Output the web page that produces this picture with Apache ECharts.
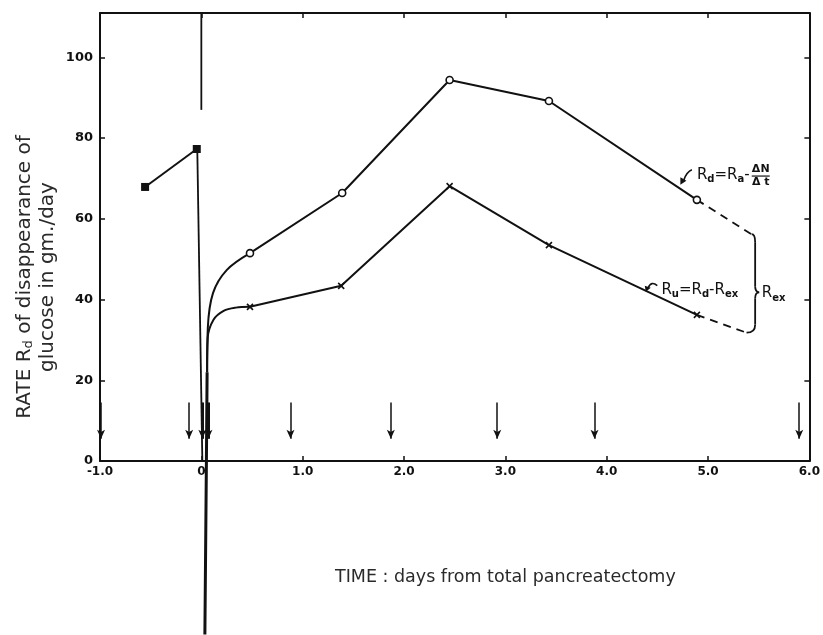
<!DOCTYPE html>
<html><head><meta charset="utf-8">
<script src="https://cdn.jsdelivr.net/npm/echarts@6/dist/echarts.min.js"></script>
<style>html,body{margin:0;padding:0;background:#fff}#c{width:823px;height:635px}</style>
</head><body><div id="c"></div>
<script>
// ---- data ----
const xTickValues = [-1, 0, 1, 2, 3, 4, 5, 6];
const xTickLabels = ['-1.0', '0', '1.0', '2.0', '3.0', '4.0', '5.0', '6.0'];
const yTickValues = [0, 20, 40, 60, 80, 100];
const yTickLabels = ['0', '20', '40', '60', '80', '100'];

const preOpDays = [-0.555, -0.045];
const preOpRate = [67.9, 77.3];

const rdDays = [0.48, 1.39, 2.45, 3.43, 4.89];
const rdRate = [51.5, 66.4, 94.4, 89.2, 64.7];
const rdEarlyDays = [0.057, 0.064, 0.115, 0.25, 0.48];
const rdEarlyRate = [22, 33, 41.6, 47.3, 51.5];
const rdExtDays = [4.89, 5.44];
const rdExtRate = [64.7, 56.0];

const ruDays = [0.48, 1.38, 2.45, 3.43, 4.89];
const ruRate = [38.2, 43.4, 68.1, 53.5, 36.2];
const ruEarlyDays = [0.057, 0.063, 0.12, 0.22, 0.34, 0.48];
const ruEarlyRate = [22, 30.5, 35.0, 37.2, 38.0, 38.2];
const ruExtDays = [4.89, 5.39];
const ruExtRate = [36.2, 31.7];

const dropDays = [-0.04, 0.01];
const dropRate = [77.3, 0];
const stemDays = [0.035, 0.05, 0.057];
const stemRate = [-43, 0, 22];
const opMarkDays = [0, 0];
const opMarkRate = [111, 87];

const arrowDays = [-0.99, -0.12, 0.01, 0.07, 0.88, 1.87, 2.92, 3.88, 5.9];
const arrowBold = [false, false, true, true, false, false, false, false, false];
const arrowTop = 14.5;
const arrowBottom = 5.5;

const zip = (a, b) => a.map((v, i) => [v, b[i]]);

const chart = echarts.init(document.getElementById('c'), null, {renderer: 'canvas'});
const black = '#111';
const labelFont = {fontFamily: 'DejaVu Sans', fontSize: 13, fontWeight: 'bold', color: black};

const baseLine = (data, extra) => Object.assign({
  type: 'line', data: data, xAxisIndex: 0, yAxisIndex: 0,
  symbol: 'none', silent: true, animation: false, clip: false,
  lineStyle: {color: black, width: 2}, itemStyle: {color: black}
}, extra || {});

const xPath = 'path://M0,0L10,10M10,0L0,10';
const axisCommon = {
  axisLine: {show: true, onZero: false, lineStyle: {color: black, width: 2}},
  axisTick: {show: true, inside: true, length: 5, lineStyle: {color: black, width: 1.5}},
  splitLine: {show: false}
};

const option = {
  animation: false,
  backgroundColor: '#fff',
  grid: {left: 100, right: 13, top: 13, bottom: 174, containLabel: false},
  xAxis: [Object.assign({
    type: 'value', min: -1, max: 6, interval: 1, position: 'bottom',
    axisLabel: Object.assign({margin: 5, formatter: v => {
      const i = xTickValues.indexOf(v); return i >= 0 ? xTickLabels[i] : '';
    }}, labelFont, {fontSize: 12})
  }, axisCommon), Object.assign({
    type: 'value', min: -1, max: 6, interval: 1, position: 'top', axisLabel: {show: false}
  }, axisCommon)],
  yAxis: [Object.assign({
    type: 'value', min: 0, max: 111, interval: 20, position: 'left',
    axisLabel: Object.assign({margin: 7, formatter: v => {
      const i = yTickValues.indexOf(v); return i >= 0 ? yTickLabels[i] : '';
    }}, labelFont)
  }, axisCommon), Object.assign({
    type: 'value', min: 0, max: 111, interval: 20, position: 'right', axisLabel: {show: false}
  }, axisCommon)],
  series: [
    baseLine(zip(opMarkDays, opMarkRate), {lineStyle: {color: black, width: 1.8}}),
    baseLine(zip(dropDays, dropRate), {lineStyle: {color: black, width: 1.8}}),
    baseLine(zip(stemDays, stemRate), {lineStyle: {color: black, width: 3}}),
    baseLine(zip(preOpDays, preOpRate), {symbol: 'rect', symbolSize: 8, showSymbol: true}),
    baseLine(zip(rdEarlyDays, rdEarlyRate), {smooth: 0.35}),
    baseLine(zip(ruEarlyDays, ruEarlyRate), {smooth: 0.35}),
    baseLine(zip(rdExtDays, rdExtRate), {lineStyle: {color: black, width: 1.8, type: [8, 6]}}),
    baseLine(zip(ruExtDays, ruExtRate), {lineStyle: {color: black, width: 1.8, type: [8, 6]}}),
    baseLine(zip(rdDays, rdRate), {
      symbol: 'circle', symbolSize: 7, showSymbol: true, z: 5,
      itemStyle: {color: '#fff', borderColor: black, borderWidth: 1.6}
    }),
    baseLine(zip(ruDays, ruRate), {
      symbol: xPath, symbolSize: 6, showSymbol: true, z: 5,
      itemStyle: {color: black, borderColor: black, borderWidth: 1.6}
    }),
    {
      type: 'line', data: [], silent: true, animation: false,
      markLine: {
        silent: true, animation: false, symbol: ['none', 'arrow'], symbolSize: [6, 9],
        label: {show: false},
        lineStyle: {color: black, width: 1.5, type: 'solid'},
        data: arrowDays.map((d, i) => [
          {coord: [d, arrowTop], lineStyle: {color: black, width: arrowBold[i] ? 3 : 1.5, type: 'solid'}},
          {coord: [d, arrowBottom]}
        ])
      }
    }
  ]
};
chart.setOption(option);

// ---- annotations placed from data coordinates ----
const P = (x, y) => chart.convertToPixel({xAxisIndex: 0, yAxisIndex: 0}, [x, y]);
const txtFont = 'DejaVu Sans';
const rich = {
  b: {fontFamily: txtFont, fontSize: 15, fill: black},
  s: {fontFamily: txtFont, fontSize: 10, fontWeight: 'bold', fill: black, padding: [9, 0, 0, 0]}
};

const rdLab = P(4.89, 70.9);
const fracC = P(5.52, 70.6);
const ruLab = P(4.54, 42.4);
const rexLab = P(5.53, 41.5);
const braceTop = P(5.43, 56.2);
const braceBot = P(5.38, 31.8);
const braceMid = P(5.465, 41.8);
const ruArrow = P(4.43, 43.2);

const bx = braceMid[0];
const tip = bx + 4;
const S = {stroke: black, lineWidth: 1.8, fill: null};
const braceEls = [
  {type: 'bezierCurve', shape: {x1: braceTop[0], y1: braceTop[1], cpx1: bx, cpy1: braceTop[1], x2: bx, y2: braceTop[1] + 8}},
  {type: 'line', shape: {x1: bx, y1: braceTop[1] + 8, x2: bx, y2: braceMid[1] - 6}},
  {type: 'bezierCurve', shape: {x1: bx, y1: braceMid[1] - 6, cpx1: bx, cpy1: braceMid[1], x2: tip, y2: braceMid[1]}},
  {type: 'bezierCurve', shape: {x1: tip, y1: braceMid[1], cpx1: bx, cpy1: braceMid[1], x2: bx, y2: braceMid[1] + 6}},
  {type: 'line', shape: {x1: bx, y1: braceMid[1] + 6, x2: bx, y2: braceBot[1] - 8}},
  {type: 'bezierCurve', shape: {x1: bx, y1: braceBot[1] - 8, cpx1: bx, cpy1: braceBot[1], x2: braceBot[0], y2: braceBot[1]}}
].map(e => Object.assign(e, {silent: true, style: S}));

const ax = rdLab[0], ay = rdLab[1];
const ux = ruArrow[0], uy = ruArrow[1];
const arrowEls = [
  {type: 'bezierCurve', silent: true, shape: {x1: ax - 5, y1: ay - 5, cpx1: ax - 10, cpy1: ay - 3, x2: ax - 13, y2: ay + 5}, style: {stroke: black, lineWidth: 1.6, fill: null}},
  {type: 'polygon', silent: true, shape: {points: [[ax - 16.5, ay + 10], [ax - 16.5, ay + 2.5], [ax - 10.5, ay + 6]]}, style: {fill: black}},
  {type: 'bezierCurve', silent: true, shape: {x1: ux + 7, y1: uy - 1, cpx1: ux + 1, cpy1: uy - 6, x2: ux - 2, y2: uy + 1}, style: {stroke: black, lineWidth: 1.6, fill: null}},
  {type: 'polygon', silent: true, shape: {points: [[ux - 4.5, uy + 5], [ux - 5.5, uy - 1], [ux + 0.5, uy + 1]]}, style: {fill: black}}
];

const xTitle = P(3.0, -28.8);

chart.setOption({
  graphic: [
    {type: 'text', x: rdLab[0], y: rdLab[1], silent: true,
      style: {text: '{b|R}{s|d}{b|=R}{s|a}{b|-}', rich: rich, verticalAlign: 'middle', align: 'left'}},
    {type: 'text', x: fracC[0], y: fracC[1] - 1, silent: true,
      style: {text: 'ΔN', fontFamily: txtFont, fontSize: 11, fontWeight: 'bold', fill: black, align: 'center', verticalAlign: 'bottom'}},
    {type: 'line', silent: true, shape: {x1: fracC[0] - 9, y1: fracC[1], x2: fracC[0] + 9, y2: fracC[1]}, style: {stroke: black, lineWidth: 1.2}},
    {type: 'text', x: fracC[0], y: fracC[1] + 1, silent: true,
      style: {text: 'Δ t', fontFamily: txtFont, fontSize: 11, fontWeight: 'bold', fill: black, align: 'center', verticalAlign: 'top'}},
    {type: 'text', x: ruLab[0], y: ruLab[1], silent: true,
      style: {text: '{b|R}{s|u}{b|=R}{s|d}{b|-R}{s|ex}', rich: rich, verticalAlign: 'middle', align: 'left'}},
    {type: 'text', x: rexLab[0], y: rexLab[1], silent: true,
      style: {text: '{b|R}{s|ex}', rich: rich, verticalAlign: 'middle', align: 'left'}},
    ...braceEls,
    ...arrowEls,
    {type: 'text', x: xTitle[0], y: xTitle[1], silent: true,
      style: {text: 'TIME : days from total pancreatectomy', fontFamily: txtFont, fontSize: 17.5, fill: '#2a2a2a', align: 'center', verticalAlign: 'middle'}},
    {type: 'text', x: 36, y: 277, rotation: Math.PI / 2, silent: true,
      style: {text: '{t|RATE R}{u|d}{t| of disappearance of}\n{t|glucose in gm./day}', align: 'center', verticalAlign: 'middle',
        rich: {
          t: {fontFamily: txtFont, fontSize: 20, fill: '#2a2a2a', lineHeight: 23},
          u: {fontFamily: txtFont, fontSize: 13, fill: '#2a2a2a', lineHeight: 23, padding: [9, 0, 0, 0]}
        }}}
  ]
});
</script>
</body></html>
